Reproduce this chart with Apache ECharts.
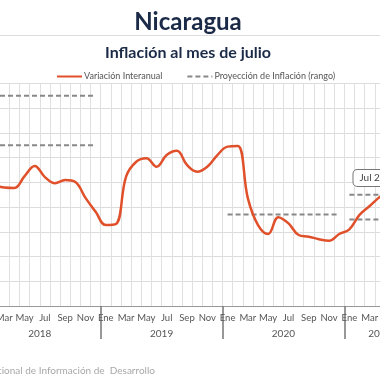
<!DOCTYPE html>
<html><head><meta charset="utf-8">
<script src="https://cdn.jsdelivr.net/npm/echarts@6/dist/echarts.min.js"></script>
<style>html,body{margin:0;padding:0;background:#fff;overflow:hidden;width:380px;height:380px}
#c{position:absolute;left:-30px;top:0;width:480px;height:380px}</style>
</head><body><div id="c"></div>
<script>
const monthNames = ["Ene","Feb","Mar","Abr","May","Jun","Jul","Ago","Sep","Oct","Nov","Dic"];
const years = ["2018","2019","2020","2021"];
const monthsPerYear = [12,12,12,7];
const interanual = [
  4.81,4.85,4.79,4.77,5.25,5.66,5.21,4.96,5.09,5.01,4.37,3.81,
  3.27,3.31,5.23,5.83,5.97,5.63,6.10,6.27,5.70,5.43,5.63,6.10,
  6.44,6.47,4.35,3.27,2.91,3.59,3.34,2.87,2.80,2.70,2.64,2.91,
  3.10,3.68,4.04,4.41,4.69,4.95,5.17
];
const projYears = ["2018","2018","2020","2021","2021"];
const projValues = [8.5, 6.5, 3.7, 4.5, 3.5];
const lastLabel = "Jul 2021";
const PROJ = 'Proyección de Inflación (rango)';
const MAIN = 'Variación Interanual';

const cats = [], yearOfIdx = [];
years.forEach((y,i)=>{for(let m=0;m<monthsPerYear[i];m++){cats.push(monthNames[m]);yearOfIdx.push(y);}});
const total = cats.length;
const yearStarts = [], yearCenters = [];
let acc = 0;
monthsPerYear.forEach(n=>{yearStarts.push(acc); yearCenters.push(acc+n/2); acc+=n;});
yearStarts.push(acc);

const projSeries = projYears.map((y,k)=>({
  name:PROJ, type:'line', symbol:'none', connectNulls:false,
  data: yearOfIdx.map(yy => yy===y ? projValues[k] : null),
  lineStyle:{color:'#888', width:2, type:[5,3]}, itemStyle:{color:'#888'}
}));

const mainData = interanual.map((v,i)=> i===interanual.length-1 ? {
  value:v, symbol:'circle', symbolSize:2,
  label:{show:true, position:'left', distance:6, formatter:lastLabel, fontSize:10, color:'#444', fontFamily:'Lato',
    backgroundColor:'#fff', borderColor:'#777', borderWidth:1, borderRadius:4, padding:[3,6]}
} : v);

const FONT='Lato';
const chart = echarts.init(document.getElementById('c'));
chart.setOption({
  animation:false,
  title:[
    {text:'Nicaragua', left:213, top:5, textAlign:'center', textStyle:{fontFamily:FONT,fontWeight:'bold',fontSize:24,color:'#1b2a47'}},
    {text:'Inflación al mes de julio', left:213, top:40, textAlign:'center', textStyle:{fontFamily:FONT,fontWeight:'bold',fontSize:16,color:'#1b2a47'}}
  ],
  graphic:[
    {type:'line', shape:{x1:0,y1:35.5,x2:480,y2:35.5}, style:{stroke:'#dcdcdc',lineWidth:1}},
    {type:'text', x:185, y:371, style:{text:'Fuente: Sistema Nacional de Información de  Desarrollo', fill:'#a8a8a8', fontSize:10, fontFamily:FONT, align:'right', verticalAlign:'middle'}}
  ],
  legend:{left:81, top:67, itemWidth:25, itemHeight:8, itemGap:24,
    itemStyle:{opacity:0},
    textStyle:{fontFamily:FONT,fontSize:9,color:'#555', padding:[0,0,0,-3]},
    data:[MAIN, PROJ]},
  grid:{left:8.9, top:83.3, width:436.45, height:222.7, containLabel:false},
  xAxis:[
    {type:'category', data:cats, boundaryGap:true,
     axisLine:{lineStyle:{color:'#999'}}, axisTick:{show:false},
     axisLabel:{interval:1, margin:7, fontSize:9.5, color:'#555', fontFamily:FONT},
     splitLine:{show:true, interval:0, lineStyle:{color:'#e0e0e0'}}},
    {type:'value', min:0, max:total, position:'bottom', offset:0,
     axisLine:{show:false}, splitLine:{show:false},
     axisTick:{show:true, customValues:yearStarts, length:33, inside:false, lineStyle:{color:'#777', width:1.5}},
     axisLabel:{customValues:yearCenters, margin:23, fontSize:10, color:'#555', fontFamily:FONT,
       formatter:(v)=>{const i=yearCenters.indexOf(v); return i>=0?years[i]:'';}}}
  ],
  yAxis:{type:'value', min:0, max:9, interval:1, axisLabel:{show:false}, axisLine:{show:false}, axisTick:{show:false},
    splitLine:{lineStyle:{color:'#dcdcdc'}}},
  series: projSeries.concat([
    {name:MAIN, type:'line', data:mainData, symbol:'none', showSymbol:true, smooth:0.4,
     lineStyle:{color:'#e0502a', width:2.5}, itemStyle:{color:'#e0502a'}, z:5}
  ])
});
</script></body></html>
